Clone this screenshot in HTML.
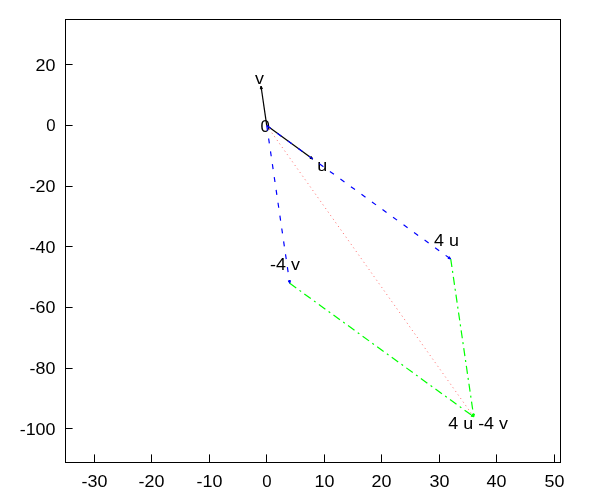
<!DOCTYPE html><html><head><meta charset="utf-8"><style>html,body{margin:0;padding:0;background:#fff;overflow:hidden}svg{display:block;will-change:transform}text{font-family:"Liberation Sans",sans-serif;font-size:16px;fill:#000}</style></head><body>
<svg width="600" height="500" viewBox="0 0 600 500" xmlns="http://www.w3.org/2000/svg">
<rect width="600" height="500" fill="#fff"/>
<g stroke="#000" stroke-width="1" fill="none" shape-rendering="crispEdges">
<path d="M65.5 19.5 H560.5 V462.5 H65.5 Z"/>
</g><g stroke="#000" stroke-width="1" fill="none">
<path d="M94.5 462 V454.4"/>
<path d="M151.5 462 V454.4"/>
<path d="M209.5 462 V454.4"/>
<path d="M266.5 462 V454.4"/>
<path d="M324.5 462 V454.4"/>
<path d="M381.5 462 V454.4"/>
<path d="M439.5 462 V454.4"/>
<path d="M496.5 462 V454.4"/>
<path d="M554.5 462 V454.4"/>
<path d="M66 64.5 H72.6"/>
<path d="M66 125.5 H72.6"/>
<path d="M66 186.5 H72.6"/>
<path d="M66 246.5 H72.6"/>
<path d="M66 307.5 H72.6"/>
<path d="M66 368.5 H72.6"/>
<path d="M66 428.5 H72.6"/>
</g>
<text transform="matrix(1.1200 0 0 1 94.50 487.00)" text-anchor="middle">-30</text>
<text transform="matrix(1.1200 0 0 1 151.50 487.00)" text-anchor="middle">-20</text>
<text transform="matrix(1.1200 0 0 1 209.50 487.00)" text-anchor="middle">-10</text>
<text transform="matrix(1.0500 0 0 1 267.00 487.00)" text-anchor="middle">0</text>
<text transform="matrix(1.1200 0 0 1 324.50 487.00)" text-anchor="middle">10</text>
<text transform="matrix(1.1200 0 0 1 381.50 487.00)" text-anchor="middle">20</text>
<text transform="matrix(1.1200 0 0 1 439.50 487.00)" text-anchor="middle">30</text>
<text transform="matrix(1.1200 0 0 1 496.50 487.00)" text-anchor="middle">40</text>
<text transform="matrix(1.1200 0 0 1 554.50 487.00)" text-anchor="middle">50</text>
<text transform="matrix(1.1200 0 0 1 55.50 71.00)" text-anchor="end">20</text>
<text transform="matrix(1.0500 0 0 1 55.50 131.00)" text-anchor="end">0</text>
<text transform="matrix(1.1200 0 0 1 55.50 192.00)" text-anchor="end">-20</text>
<text transform="matrix(1.1200 0 0 1 55.50 253.00)" text-anchor="end">-40</text>
<text transform="matrix(1.1200 0 0 1 55.50 313.00)" text-anchor="end">-60</text>
<text transform="matrix(1.1200 0 0 1 55.50 374.00)" text-anchor="end">-80</text>
<text transform="matrix(1.1200 0 0 1 55.50 435.00)" text-anchor="end">-100</text>
<text transform="matrix(1.1200 0 0 1 255.00 84.00)" text-anchor="start">v</text>
<text transform="matrix(1.0500 0 0 1 260.50 131.70)" text-anchor="start">0</text>
<text transform="matrix(1.1200 0 0 1 317.30 171.00)" text-anchor="start">u</text>
<text transform="matrix(1.1200 0 0 1 434.00 246.00)" text-anchor="start">4 u</text>
<text transform="matrix(1.1200 0 0 1 270.00 269.60)" text-anchor="start">-4 v</text>
<text transform="matrix(1.1200 0 0 1 448.30 429.00)" text-anchor="start">4 u -4 v</text>
<path d="M266.75 125.60 L473.75 416.80" stroke="#ff0000" stroke-width="1.00" stroke-opacity="0.60" fill="none" stroke-dasharray="1 3.4"/>
<path d="M266.75 125.60 L261.00 86.17" stroke="#000" stroke-width="1.20" stroke-opacity="1.00" fill="none"/>
<path d="M261.00 86.17 L260.29 88.90 L262.46 88.58 Z" fill="#000" stroke="#000" stroke-width="1" stroke-linejoin="round"/>
<path d="M266.75 125.60 L312.75 158.97" stroke="#000" stroke-width="1.20" stroke-opacity="1.00" fill="none"/>
<path d="M312.75 158.97 L311.29 156.55 L310.00 158.33 Z" fill="#000" stroke="#000" stroke-width="1" stroke-linejoin="round"/>
<path d="M266.75 125.60 L450.75 259.07" stroke="#0000ff" stroke-width="1.20" stroke-opacity="1.00" fill="none" stroke-dasharray="5 8"/>
<path d="M450.75 259.07 L449.29 256.65 L448.00 258.43 Z" fill="#0000ff" stroke="#0000ff" stroke-width="1" stroke-linejoin="round"/>
<path d="M266.75 125.60 L289.75 283.33" stroke="#0000ff" stroke-width="1.20" stroke-opacity="1.00" fill="none" stroke-dasharray="5 8"/>
<path d="M289.75 283.33 L290.46 280.60 L288.29 280.92 Z" fill="#0000ff" stroke="#0000ff" stroke-width="1" stroke-linejoin="round"/>
<path d="M450.75 259.07 L473.75 416.80" stroke="#00ff00" stroke-width="1.20" stroke-opacity="1.00" fill="none" stroke-dasharray="8 4 2 4"/>
<path d="M473.75 416.80 L474.46 414.07 L472.29 414.38 Z" fill="#00ff00" stroke="#00ff00" stroke-width="1" stroke-linejoin="round"/>
<path d="M289.75 283.33 L473.75 416.80" stroke="#00ff00" stroke-width="1.20" stroke-opacity="1.00" fill="none" stroke-dasharray="8 4 2 4"/>
<path d="M473.75 416.80 L472.29 414.38 L471.00 416.16 Z" fill="#00ff00" stroke="#00ff00" stroke-width="1" stroke-linejoin="round"/>
</svg></body></html>
